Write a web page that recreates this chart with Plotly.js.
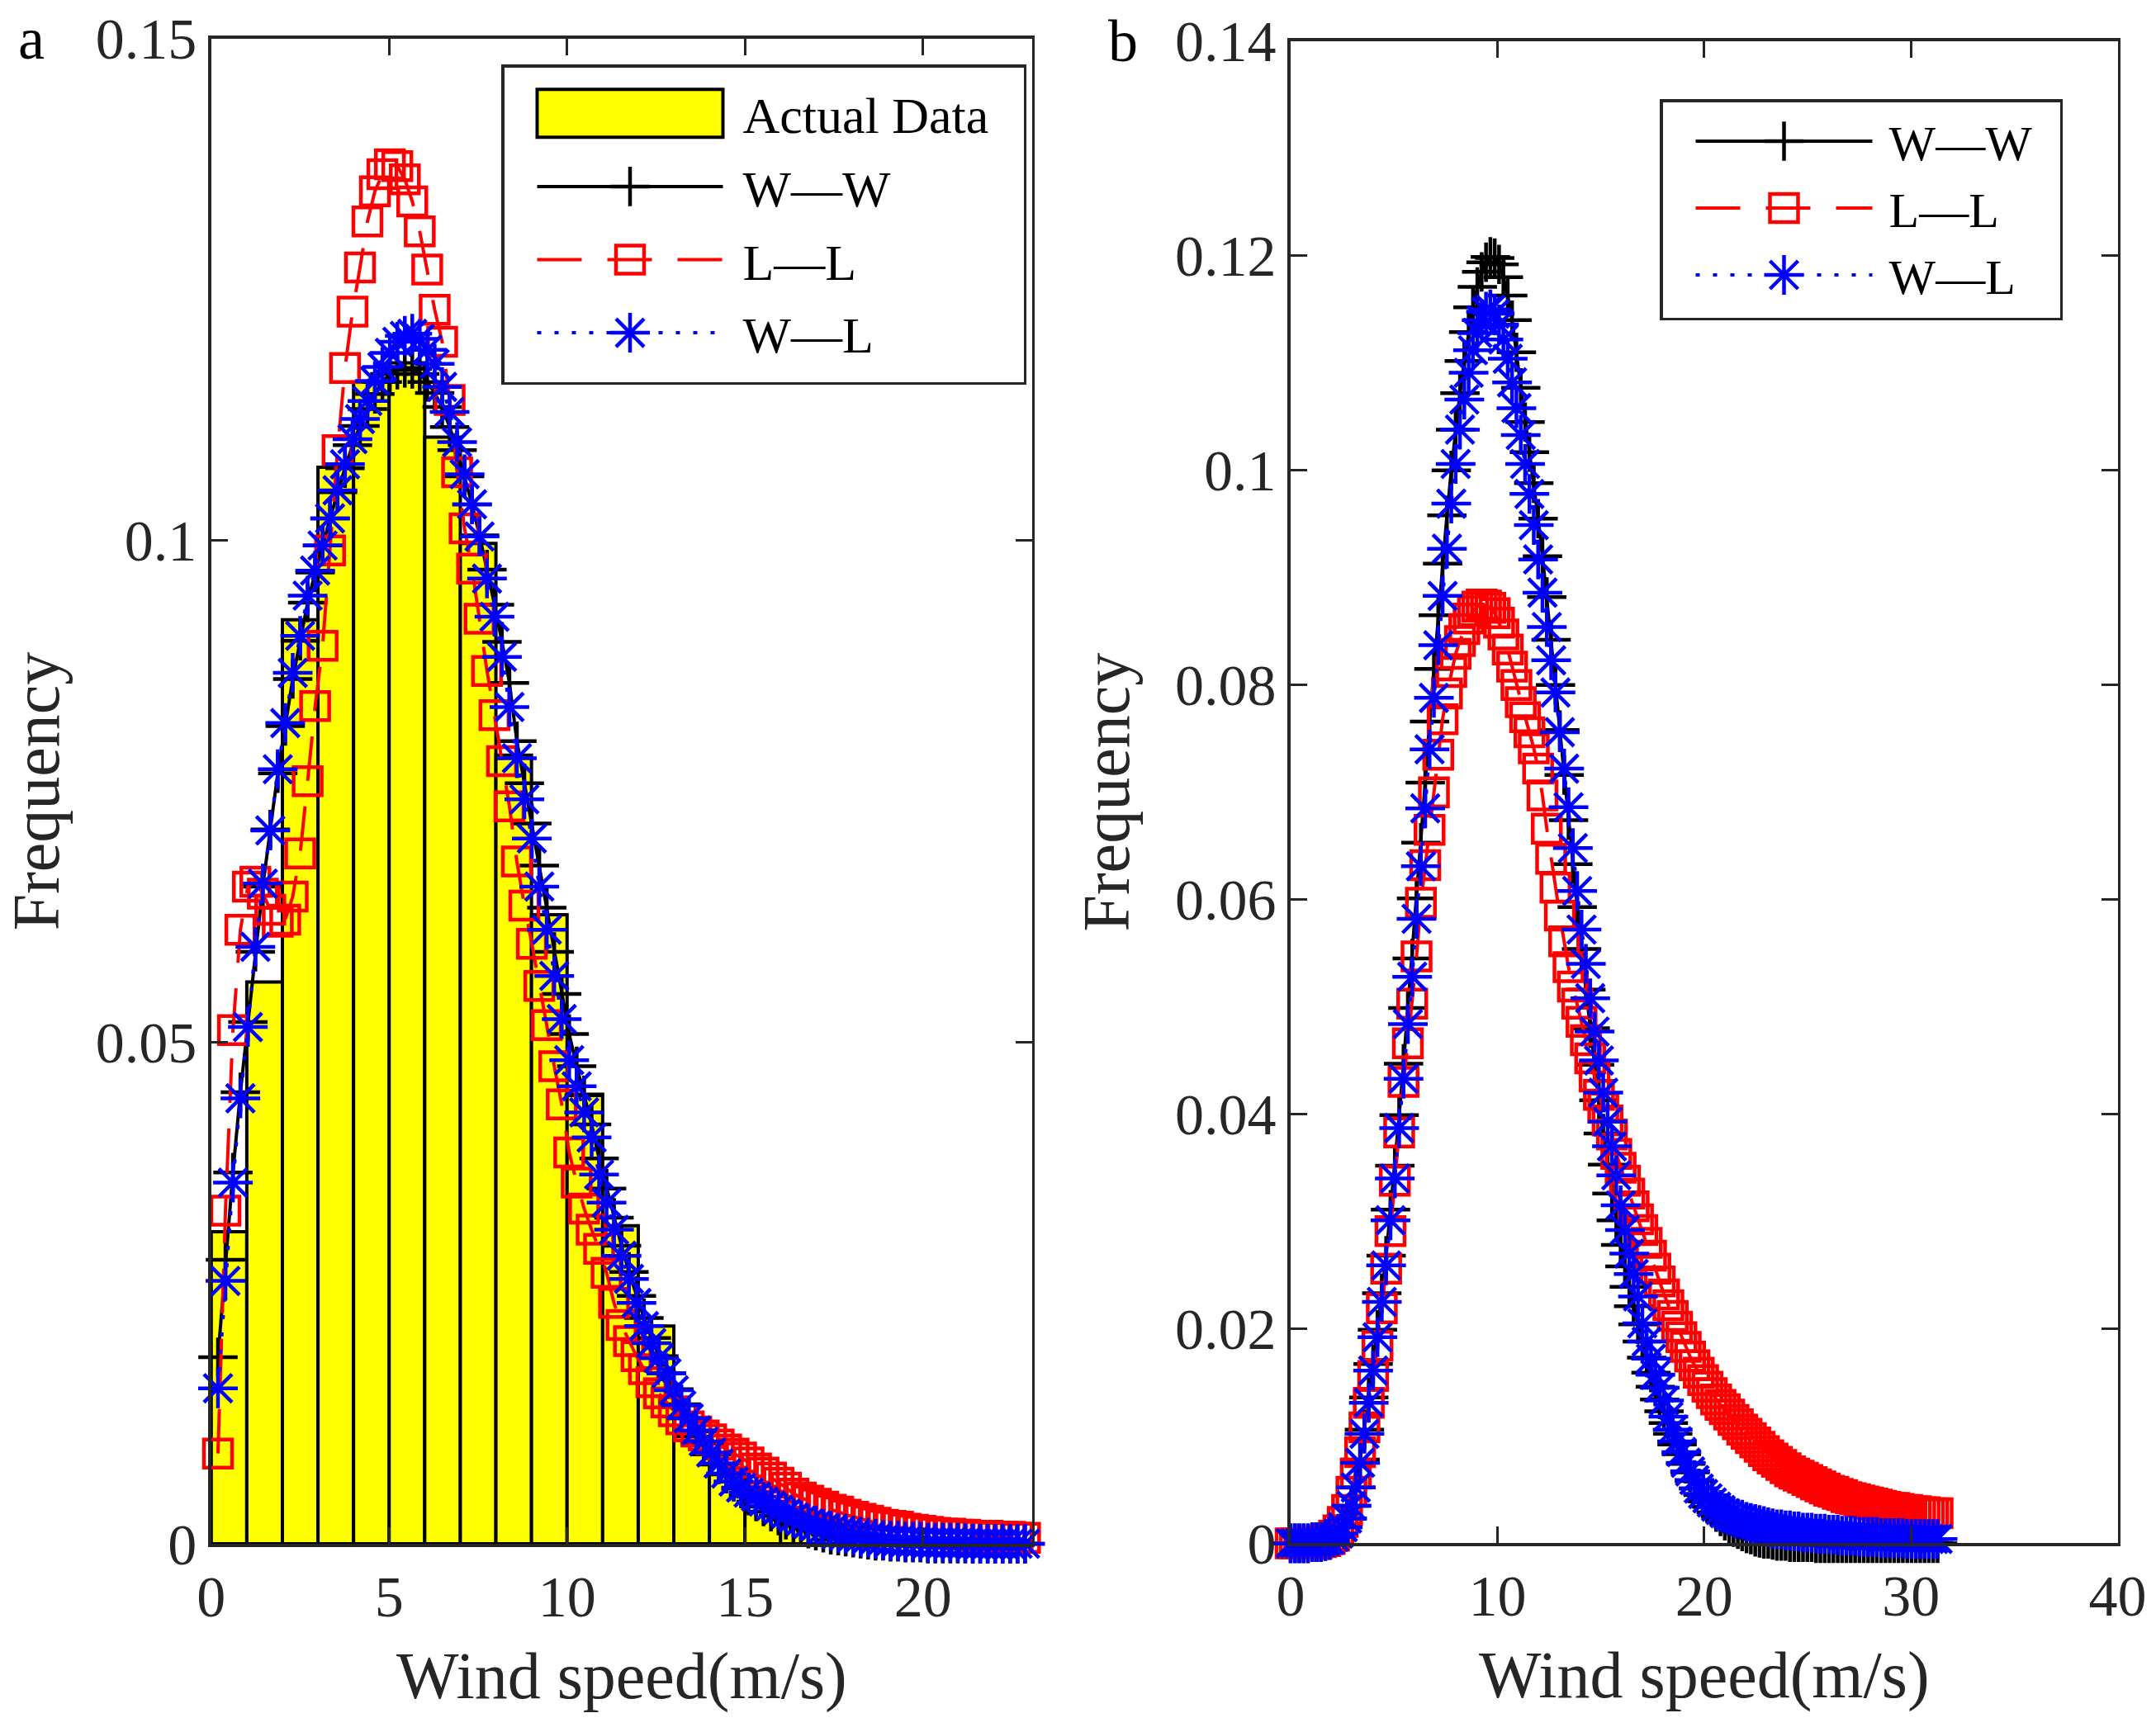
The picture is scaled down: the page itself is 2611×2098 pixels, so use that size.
<!DOCTYPE html>
<html>
<head>
<meta charset="utf-8">
<script src="https://cdn.plot.ly/plotly-3.0.1.min.js"></script>
<style>
html,body{margin:0;padding:0;background:#ffffff;}
#chart{width:2611px;height:2098px;}
</style>
</head>
<body>
<div id="chart"></div>
<script>
// ---------------- data : panel a ----------------
const binCenters = [0.5,1.5,2.5,3.5,4.5,5.5,6.5,7.5,8.5,9.5,10.5,11.5,12.5,13.5,14.5,15.5,16.5,17.5];
const binFreq = [0.0311,0.0560,0.0921,0.1073,0.1158,0.1177,0.1103,0.0997,0.0786,0.0627,0.0448,0.0317,0.0217,0.0107,0.0069,0.0032,0.0020,0.0004];

const speedA = [
0.19,0.40,0.61,0.82,1.03,1.24,1.45,1.66,1.87,2.08,
2.29,2.50,2.71,2.92,3.13,3.34,3.55,3.76,3.97,4.18,
4.39,4.60,4.81,5.02,5.23,5.44,5.65,5.86,6.07,6.28,
6.49,6.70,6.91,7.12,7.33,7.54,7.75,7.96,8.17,8.38,
8.59,8.80,9.01,9.22,9.43,9.64,9.85,10.06,10.27,10.48,
10.69,10.90,11.11,11.32,11.53,11.74,11.95,12.16,12.37,12.58,
12.79,13.00,13.21,13.42,13.63,13.84,14.05,14.26,14.47,14.68,
14.89,15.10,15.31,15.52,15.73,15.94,16.15,16.36,16.57,16.78,
16.99,17.20,17.41,17.62,17.83,18.04,18.25,18.46,18.67,18.88,
19.09,19.30,19.51,19.72,19.93,20.14,20.35,20.56,20.77,20.98,
21.19,21.40,21.61,21.82,22.03,22.24,22.45,22.66,22.87,23.08,
23.29];

const wwA = [
.0186,.0283,.0370,.0450,.0520,.0590,.0655,.0712,.0768,.0815,
.0862,.0900,.0938,.0968,.0995,.1022,.1048,.1072,.1095,.1114,
.1131,.1146,.1158,.1166,.1170,.1172,.1171,.1166,.1158,.1147,
.1133,.1113,.1090,.1064,.1036,.1005,.0971,.0936,.0899,.0858,
.0800,.0758,.0718,.0676,.0634,.0590,.0548,.0508,.0476,.0447,
.0418,.0384,.0354,.0325,.0297,.0271,.0247,.0225,.0205,.0187,
.0170,.0154,.0139,.0125,.0112,.0100,.0089,.0079,.0070,.0062,
.0055,.0048,.0042,.0037,.0032,.0028,.0024,.0021,.0018,.0015,
.0013,.0011,.0009,.0008,.0007,.0006,.0005,.0004,.0003,.0003,
.0002,.0002,.0001,.0001,.0001,0,0,0,0,0,
0,0,0,0,0,0,0,0,0,0,
0];

const llA = [
.0090,.0332,.0512,.0612,.0655,.0660,.0648,.0632,.0620,.0622,
.0645,.0688,.0760,.0835,.0895,.0990,.1090,.1172,.1228,.1272,
.1318,.1348,.1365,.1375,.1373,.1360,.1338,.1308,.1270,.1230,
.1198,.1140,.1068,.1012,.0972,.0922,.0870,.0826,.0780,.0735,
.0680,.0636,.0598,.0556,.0517,.0476,.0438,.0390,.0360,.0334,
.0313,.0294,.0270,.0240,.0218,.0202,.0187,.0174,.0161,.0150,
.0141,.0132,.0124,.0117,.0112,.0108,.0104,.0099,.0094,.0090,
.0086,.0081,.0075,.0071,.0066,.0061,.0056,.0050,.0046,.0043,
.0040,.0037,.0034,.0032,.0029,.0027,.0025,.0023,.0021,.0019,
.0018,.0017,.0015,.0014,.0013,.0012,.0011,.0010,.0010,.0009,
.0009,.0008,.0008,.0008,.0007,.0007,.0007,.0006,.0006,.0006,
.0006];

const wlA = [
.0155,.0262,.0360,.0444,.0515,.0595,.0658,.0711,.0772,.0818,
.0868,.0905,.0945,.0970,.0995,.1022,.1050,.1076,.1101,.1121,
.1139,.1159,.1173,.1187,.1198,.1204,.1206,.1201,.1190,.1176,
.1153,.1128,.1098,.1066,.1036,.1004,.0962,.0924,.0884,.0834,
.0783,.0742,.0703,.0655,.0612,.0566,.0523,.0482,.0456,.0430,
.0405,.0368,.0340,.0313,.0287,.0264,.0240,.0217,.0200,.0185,
.0170,.0153,.0138,.0125,.0113,.0102,.0091,.0080,.0070,.0062,
.0056,.0051,.0047,.0042,.0038,.0034,.0030,.0026,.0023,.0020,
.0018,.0015,.0013,.0011,.0010,.0008,.0007,.0006,.0005,.0004,
.0003,.0003,.0002,.0002,.0002,.0001,.0001,.0001,.0001,.0001,
.0001,0,0,0,0,0,0,0,0,0,
0];

// ---------------- data : panel b ----------------
const speedB = [
0,0.21,0.42,0.63,0.84,1.05,1.26,1.47,1.68,1.89,
2.10,2.31,2.52,2.73,2.94,3.15,3.36,3.57,3.78,3.99,
4.20,4.41,4.62,4.83,5.04,5.25,5.46,5.67,5.88,6.09,
6.30,6.51,6.72,6.93,7.14,7.35,7.56,7.77,7.98,8.19,
8.40,8.61,8.82,9.03,9.24,9.45,9.66,9.87,10.08,10.29,
10.50,10.71,10.92,11.13,11.34,11.55,11.76,11.97,12.18,12.39,
12.60,12.81,13.02,13.23,13.44,13.65,13.86,14.07,14.28,14.49,
14.70,14.91,15.12,15.33,15.54,15.75,15.96,16.17,16.38,16.59,
16.80,17.01,17.22,17.43,17.64,17.85,18.06,18.27,18.48,18.69,
18.90,19.11,19.32,19.53,19.74,19.95,20.16,20.37,20.58,20.79,
21.00,21.21,21.42,21.63,21.84,22.05,22.26,22.47,22.68,22.89,
23.10,23.31,23.52,23.73,23.94,24.15,24.36,24.57,24.78,24.99,
25.20,25.41,25.62,25.83,26.04,26.25,26.46,26.67,26.88,27.09,
27.30,27.51,27.72,27.93,28.14,28.35,28.56,28.77,28.98,29.19,
29.40,29.61,29.82,30.03,30.24,30.45,30.66,30.87,31.08,31.29];

const wwB = [
0,0,0,0,0,.0001,.0001,.0001,.0002,.0003,
.0006,.0009,.0015,.0023,.0035,.0052,.0078,.0106,.0136,.0167,
.0199,.0233,.0268,.0311,.0352,.0399,.0447,.0499,.0545,.0601,
.0653,.0709,.0766,.0815,.0865,.0913,.0958,.1000,.1038,.1072,
.1102,.1129,.1152,.1171,.1185,.1194,.1199,.1198,.1192,.1180,
.1163,.1140,.1110,.1077,.1045,.1017,.0988,.0955,.0920,.0882,
.0842,.0800,.0758,.0716,.0674,.0633,.0593,.0554,.0516,.0480,
.0446,.0413,.0382,.0353,.0326,.0301,.0278,.0258,.0239,.0221,
.0204,.0188,.0173,.0159,.0146,.0134,.0123,.0112,.0102,.0092,
.0083,.0074,.0066,.0058,.0051,.0045,.0039,.0034,.0029,.0025,
.0021,.0018,.0015,.0013,.0011,.0009,.0008,.0006,.0005,.0004,
.0004,.0003,.0002,.0002,.0002,.0001,.0001,.0001,.0001,.0001,
.0001,0,0,0,0,0,0,0,0,0,
0,0,0,0,0,0,0,0,0,0,
0,0,0,0,0,0,0,0,0,0];

const llB = [
0,0,0,0,0,0,0,.0001,.0002,.0004,
.0007,.0012,.0020,.0031,.0048,.0065,.0085,.0108,.0131,.0156,
.0184,.0219,.0256,.0291,.0338,.0383,.0430,.0466,.0503,.0547,
.0597,.0632,.0665,.0700,.0735,.0768,.0792,.0812,.0829,.0841,
.0852,.0862,.0869,.0873,.0875,.0874,.0872,.0867,.0858,.0847,
.0833,.0817,.0800,.0784,.0770,.0756,.0741,.0722,.0697,.0666,
.0638,.0611,.0585,.0561,.0537,.0519,.0503,.0486,.0469,.0452,
.0435,.0418,.0406,.0394,.0381,.0363,.0350,.0338,.0326,.0314,
.0302,.0292,.0280,.0268,.0256,.0244,.0232,.0222,.0212,.0202,
.0192,.0183,.0174,.0166,.0159,.0152,.0146,.0140,.0134,.0129,
.0125,.0120,.0115,.0111,.0106,.0102,.0098,.0094,.0090,.0086,
.0082,.0079,.0076,.0073,.0070,.0067,.0065,.0063,.0061,.0059,
.0057,.0055,.0053,.0051,.0049,.0048,.0046,.0045,.0043,.0042,
.0041,.0040,.0039,.0038,.0037,.0036,.0035,.0034,.0033,.0033,
.0032,.0031,.0031,.0030,.0030,.0029,.0029,.0028,.0028,.0028];

const wlB = [
0,0,0,0,0,.0001,.0001,.0001,.0002,.0003,
.0006,.0009,.0015,.0023,.0035,.0052,.0075,.0102,.0131,.0161,
.0192,.0225,.0259,.0301,.0340,.0387,.0433,.0484,.0528,.0582,
.0631,.0685,.0740,.0788,.0837,.0883,.0927,.0969,.1006,.1038,
.1066,.1091,.1112,.1128,.1140,.1148,.1150,.1146,.1136,.1122,
.1104,.1082,.1058,.1033,.1006,.0978,.0949,.0917,.0886,.0854,
.0823,.0793,.0756,.0722,.0686,.0648,.0608,.0572,.0540,.0508,
.0477,.0450,.0420,.0393,.0370,.0343,.0315,.0292,.0270,.0251,
.0230,.0205,.0188,.0172,.0157,.0145,.0133,.0118,.0106,.0095,
.0085,.0075,.0067,.0059,.0051,.0046,.0042,.0038,.0034,.0031,
.0028,.0026,.0024,.0023,.0022,.0020,.0019,.0018,.0017,.0016,
.0015,.0014,.0013,.0013,.0012,.0012,.0011,.0011,.0010,.0010,
.0010,.0009,.0009,.0009,.0008,.0008,.0008,.0007,.0007,.0007,
.0007,.0006,.0006,.0006,.0006,.0006,.0005,.0005,.0005,.0005,
.0005,.0005,.0004,.0004,.0004,.0004,.0004,.0004,.0004,.0004];

// ---------------- ticks & labels ----------------
const xTicksA = [0,5,10,15,20];
const yTicksA = [0,0.05,0.1,0.15];
const yTickTextA = ['0','0.05','0.1','0.15'];
const xTicksB = [0,10,20,30,40];
const yTicksB = [0,0.02,0.04,0.06,0.08,0.1,0.12,0.14];
const yTickTextB = ['0','0.02','0.04','0.06','0.08','0.1','0.12','0.14'];
const seriesNames = ['W\u2014W','L\u2014L','W\u2014L'];
const histName = 'Actual Data';
const xTitle = 'Wind speed(m/s)';
const yTitle = 'Frequency';

// ---------------- styling ----------------
const FONT = "'Liberation Serif','Times New Roman',serif";
const AXC = '#262626';
const styleWW = {line:{color:'#000000',width:4,dash:'solid'},
  marker:{symbol:'cross-thin-open',size:34,color:'#000000',line:{color:'#000000',width:4.5}}};
const styleLL = {line:{color:'#ff0000',width:4,dash:'54px,31px'},
  marker:{symbol:'square-open',size:34,color:'#ff0000',line:{color:'#ff0000',width:4.5}}};
const styleWL = {line:{color:'#0000ff',width:4,dash:'5px,16px'},
  marker:{symbol:'asterisk-open',size:40,color:'#0000ff',line:{color:'#0000ff',width:4.5}}};

function curve(x, y, name, st, xa, ya, lg, grp){
  return {type:'scatter', mode:'lines+markers', x:x, y:y, name:name,
    xaxis:xa, yaxis:ya, legend:lg, legendgroup:grp, cliponaxis:false,
    line:st.line, marker:st.marker};
}

const traces = [
  {type:'bar', x:binCenters, y:binFreq, width:1, name:histName, xaxis:'x', yaxis:'y', legend:'legend', legendgroup:'a0',
   marker:{color:'#ffff00', line:{color:'#000000', width:4}}},
  curve(speedA, wwA, seriesNames[0], styleWW, 'x', 'y', 'legend', 'a1'),
  curve(speedA, llA, seriesNames[1], styleLL, 'x', 'y', 'legend', 'a2'),
  curve(speedA, wlA, seriesNames[2], styleWL, 'x', 'y', 'legend', 'a3'),
  curve(speedB, wwB, seriesNames[0], styleWW, 'x2', 'y2', 'legend2', 'b1'),
  curve(speedB, llB, seriesNames[1], styleLL, 'x2', 'y2', 'legend2', 'b2'),
  curve(speedB, wlB, seriesNames[2], styleWL, 'x2', 'y2', 'legend2', 'b3')
];

function axisBase(){
  return {showline:true, mirror:'ticks', linecolor:AXC, linewidth:3.5,
    ticks:'inside', ticklen:20, tickwidth:3, tickcolor:AXC,
    showgrid:false, zeroline:false, fixedrange:true,
    tickfont:{family:FONT, size:70, color:AXC}};
}

const xa = Object.assign(axisBase(), {domain:[0.09797,0.47874], range:[0,23.07], tickmode:'array', tickvals:xTicksA,
  anchor:'y', title:{text:xTitle, font:{family:FONT,size:80,color:AXC}, standoff:30}});
const ya = Object.assign(axisBase(), {domain:[0.10867,0.9776], range:[0,0.15], tickmode:'array', tickvals:yTicksA, ticktext:yTickTextA,
  anchor:'x', title:{text:yTitle, font:{family:FONT,size:80,color:AXC}, standoff:30}});
const xb = Object.assign(axisBase(), {domain:[0.59862,0.98223], range:[0,40], tickmode:'array', tickvals:xTicksB,
  anchor:'y2', title:{text:xTitle, font:{family:FONT,size:80,color:AXC}, standoff:30}});
const yb = Object.assign(axisBase(), {domain:[0.10896,0.97620], range:[0,0.14], tickmode:'array', tickvals:yTicksB, ticktext:yTickTextB,
  anchor:'x2', title:{text:yTitle, font:{family:FONT,size:80,color:AXC}, standoff:30}});

// legend symbol geometry (px): item width, sample line length, shift of the sample line,
// and extra padding of the legend frame (top, bottom, right)
const legendCfg = {
  legend:  {itemw:279, lineLen:225, lineShift:35, barH:58, padTop:9, padBottom:12, padRight:37},
  legend2: {itemw:264, lineLen:214, lineShift:35, barH:58, padTop:2, padBottom:6, padRight:28}
};
const legendBase = {xanchor:'left', yanchor:'top', bgcolor:'#ffffff', bordercolor:AXC, borderwidth:3.5,
  font:{family:FONT, size:62, color:'#000000'}, traceorder:'grouped',
  itemclick:false, itemdoubleclick:false};

const layout = {
  width:2611, height:2098,
  margin:{l:0,r:0,t:0,b:0,pad:0},
  paper_bgcolor:'#ffffff', plot_bgcolor:'#ffffff',
  font:{family:FONT, color:AXC},
  showlegend:true,
  xaxis:xa, yaxis:ya, xaxis2:xb, yaxis2:yb,
  legend:Object.assign({}, legendBase, {x:607/2611, y:(2098-87)/2098, itemwidth:legendCfg.legend.itemw, tracegroupgap:5}),
  legend2:Object.assign({}, legendBase, {x:2010/2611, y:(2098-122)/2098, itemwidth:legendCfg.legend2.itemw, tracegroupgap:0,
    font:{family:FONT, size:60, color:'#000000'}}),
  annotations:[
    {text:'a', xref:'paper', yref:'paper', x:38/2611, y:(2098-47)/2098, showarrow:false,
     xanchor:'center', yanchor:'middle', font:{family:FONT, size:72, color:'#000000'}},
    {text:'b', xref:'paper', yref:'paper', x:1360/2611, y:(2098-50)/2098, showarrow:false,
     xanchor:'center', yanchor:'middle', font:{family:FONT, size:72, color:'#000000'}}
  ]
};

function tuneLegends(gd){
  gd.querySelectorAll('.infolayer g.traces').forEach(function(g){
    var d = g.__data__;
    var tr = d && d[0] && d[0].trace;
    if(!tr) return;
    var cfg = legendCfg[tr.legend || 'legend'];
    if(!cfg) return;
    var centerPos = (cfg.itemw + 10) / 2;
    var x0 = null;
    g.querySelectorAll('path.js-line').forEach(function(p){
      var m = /M\s*([\-\d.]+)/.exec(p.getAttribute('d') || '');
      var xs = m ? parseFloat(m[1]) : 5;
      x0 = xs + cfg.lineShift;
      p.setAttribute('d', 'M' + x0 + ',0h' + cfg.lineLen);
    });
    if(x0 === null) x0 = 5 + cfg.lineShift;
    var delta = x0 + cfg.lineLen / 2 - centerPos;
    if(tr.type === 'bar'){
      g.querySelectorAll('g.legendpoints path').forEach(function(p){
        var t = p.getAttribute('transform') || '';
        p.setAttribute('transform', 'translate(' + delta + ',0) ' + t + ' scale(' + (cfg.lineLen/12) + ',' + (cfg.barH/12) + ')');
        p.style.vectorEffect = 'non-scaling-stroke';
        p.style.strokeWidth = '4px';
      });
    } else {
      var k = tr.marker.size / 16;
      g.querySelectorAll('g.legendpoints path.scatterpts').forEach(function(p){
        var t = p.getAttribute('transform') || '';
        p.setAttribute('transform', 'translate(' + delta + ',0) ' + t + ' scale(' + k + ')');
        p.style.vectorEffect = 'non-scaling-stroke';
      });
    }
  });
  // frame padding
  Object.keys(legendCfg).forEach(function(id){
    var cfg = legendCfg[id];
    gd.querySelectorAll('.infolayer g.' + id + ' > rect.bg').forEach(function(r){
      var y = parseFloat(r.getAttribute('y') || '0');
      var h = parseFloat(r.getAttribute('height') || '0');
      var w = parseFloat(r.getAttribute('width') || '0');
      r.setAttribute('y', y - cfg.padTop);
      r.setAttribute('height', h + cfg.padTop + cfg.padBottom);
      r.setAttribute('width', w + cfg.padRight);
    });
  });
}

const gd = document.getElementById('chart');
Plotly.newPlot(gd, traces, layout, {staticPlot:true, displayModeBar:false}).then(function(){
  tuneLegends(gd);
});
</script>
</body>
</html>
